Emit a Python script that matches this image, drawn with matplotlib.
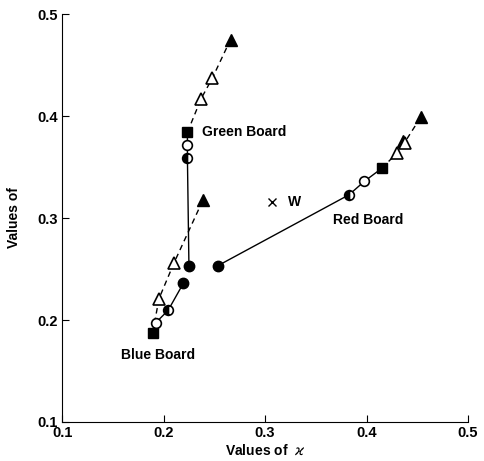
import numpy as np
import matplotlib
matplotlib.use('Agg')
import matplotlib.pyplot as plt

plt.rcParams['font.family'] = ['Liberation Sans', 'DejaVu Sans']

# (x, y) values
# green board
green_solid_x = [0.2235, 0.2235, 0.2235, 0.225]
green_solid_y = [0.384, 0.3716, 0.359, 0.253]
green_dash_x = [0.2235, 0.237, 0.248, 0.266]
green_dash_y = [0.384, 0.417, 0.437, 0.475]

# blue board
blue_solid_x = [0.1893, 0.1925, 0.2045, 0.2195]
blue_solid_y = [0.1876, 0.1975, 0.2095, 0.236]
blue_dash_x = [0.1893, 0.1955, 0.2103, 0.239]
blue_dash_y = [0.1876, 0.221, 0.256, 0.318]

# red board
red_solid_x = [0.2534, 0.3828, 0.3979, 0.415]
red_solid_y = [0.2532, 0.3228, 0.336, 0.3487]
red_dash_x = [0.415, 0.4297, 0.4375, 0.4537]
red_dash_y = [0.3487, 0.3634, 0.374, 0.3993]
red_extra_tri = (0.4363, 0.3755)

w_point = (0.307, 0.316)

ticks = [0.1, 0.2, 0.3, 0.4, 0.5]

fig = plt.figure(figsize=(4.85, 4.61), dpi=100)
ax = fig.add_axes([0.128, 0.0846, 0.837, 0.885])

def board(sx, sy, dx, dy):
    # lines first
    ax.plot(sx, sy, '-', color='black', lw=1.0, zorder=1)
    ax.plot(dx, dy, '--', color='black', lw=1.0, dashes=(4, 3), zorder=1)

def solid_markers(sx, sy, order):
    # order: square, open circle, half circle, filled circle
    for (x, y), kind in zip(zip(sx, sy), order):
        if kind == 'sq':
            ax.plot(x, y, 's', ms=7.5, color='black', zorder=3)
        elif kind == 'oc':
            ax.plot(x, y, 'o', ms=7, mfc='white', mec='black', mew=1.2, zorder=3)
        elif kind == 'hc':
            ax.plot(x, y, 'o', ms=7, fillstyle='left', mfc='black',
                    markerfacecoloralt='white', mec='black', mew=1.2, zorder=3)
        elif kind == 'fc':
            ax.plot(x, y, 'o', ms=7.5, color='black', zorder=3)

def dash_markers(dx, dy):
    ax.plot(dx[1:3], dy[1:3], '^', ls='none', ms=8, mfc='white', mec='black',
            mew=1.2, zorder=3)
    ax.plot(dx[3], dy[3], '^', ms=9, color='black', zorder=3)

board(green_solid_x, green_solid_y, green_dash_x, green_dash_y)
board(blue_solid_x, blue_solid_y, blue_dash_x, blue_dash_y)
board(red_solid_x, red_solid_y, red_dash_x, red_dash_y)

dash_markers(green_dash_x, green_dash_y)
dash_markers(blue_dash_x, blue_dash_y)
ax.plot(red_extra_tri[0], red_extra_tri[1], '^', ms=9, color='black', zorder=3)
dash_markers(red_dash_x, red_dash_y)

solid_markers(green_solid_x, green_solid_y, ['sq', 'oc', 'hc', 'fc'])
solid_markers(blue_solid_x, blue_solid_y, ['sq', 'oc', 'hc', 'fc'])
solid_markers(red_solid_x, red_solid_y, ['fc', 'hc', 'oc', 'sq'])

ax.plot(w_point[0], w_point[1], 'x', ms=6, color='black', mew=1.0)
ax.text(0.3225, 0.316, 'W', fontsize=10, fontweight='bold', va='center')

ax.text(0.238, 0.384, 'Green Board', fontsize=10, fontweight='bold', va='center')
ax.text(0.367, 0.298, 'Red Board', fontsize=10, fontweight='bold', va='center')
ax.text(0.158, 0.166, 'Blue Board', fontsize=10, fontweight='bold', va='center')

ax.set_xlim(0.1, 0.5)
ax.set_ylim(0.1, 0.5)
ax.set_xticks(ticks)
ax.set_yticks(ticks)
ax.set_xticklabels([str(t) for t in ticks])
ax.set_yticklabels([str(t) for t in ticks])
ax.tick_params(direction='in', length=5, labelsize=10.5, pad=3)
for lab in ax.get_xticklabels() + ax.get_yticklabels():
    lab.set_fontweight('bold')
ax.spines['top'].set_visible(False)
ax.spines['right'].set_visible(False)

ax.set_xlabel(r'Values of  $\varkappa$', fontsize=10, fontweight='bold', labelpad=2)
ax.set_ylabel('Values of', fontsize=10, fontweight='bold', labelpad=12)

fig.savefig('out.png', dpi=100)
